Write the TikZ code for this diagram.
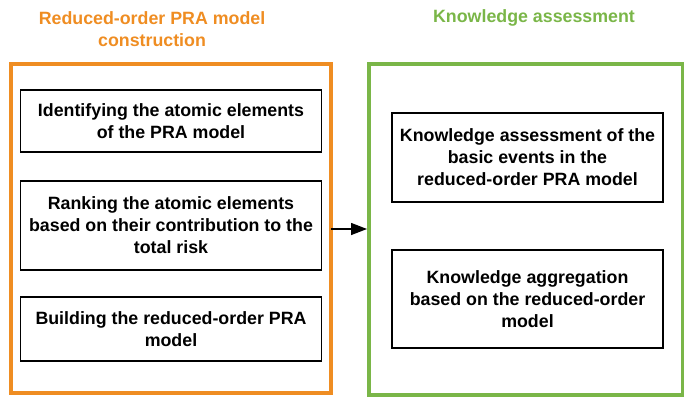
\documentclass[tikz,border=0pt]{standalone}
\usepackage{fontspec}
\setmainfont{Liberation Sans}
\usetikzlibrary{arrows.meta}
\definecolor{orng}{HTML}{EF8D22}
\definecolor{grn}{HTML}{7AB648}
\begin{document}
\begin{tikzpicture}[x=1pt,y=-1pt,
  txt/.style={font=\fontsize{17.8}{22}\selectfont\bfseries, align=center},
  stepbox/.style={draw=black, line width=1.6pt, txt},
  frame/.style={line width=4pt}]
\useasboundingbox (0,0) rectangle (684,398);
% titles
\node[txt, text=orng] (t1) at (152,29) {Reduced-order PRA model\\construction};
\node[txt, text=grn] (t2) at (534,18) {Knowledge assessment};
% frames
\draw[frame, draw=orng] (10.5,64) rectangle (330.5,393);
\draw[frame, draw=grn] (369,64) rectangle (683,395);
\coordinate (oR) at (331,229);
\coordinate (gL) at (367,229);
% left boxes
\node[stepbox, minimum width=301pt, minimum height=62pt] (b1) at (171,121) {Identifying the atomic elements\\of the PRA model};
\node[stepbox, minimum width=301pt, minimum height=89pt] (b2) at (171,225.5) {Ranking the atomic elements\\based on their contribution to the\\total risk};
\node[stepbox, minimum width=301pt, minimum height=64pt] (b3) at (171,329) {Building the reduced-order PRA\\model};
% right boxes
\node[stepbox, minimum width=271pt, minimum height=89pt] (b4) at (527.5,157.5) {Knowledge assessment of the\\basic events in the\\reduced-order PRA model};
\node[stepbox, minimum width=271pt, minimum height=98pt] (b5) at (527.5,299) {Knowledge aggregation\\based on the reduced-order\\model};
% arrow
\draw[line width=1.4pt, -{Triangle[length=16pt,width=12pt]}] (oR) -- (gL);
\end{tikzpicture}
\end{document}
